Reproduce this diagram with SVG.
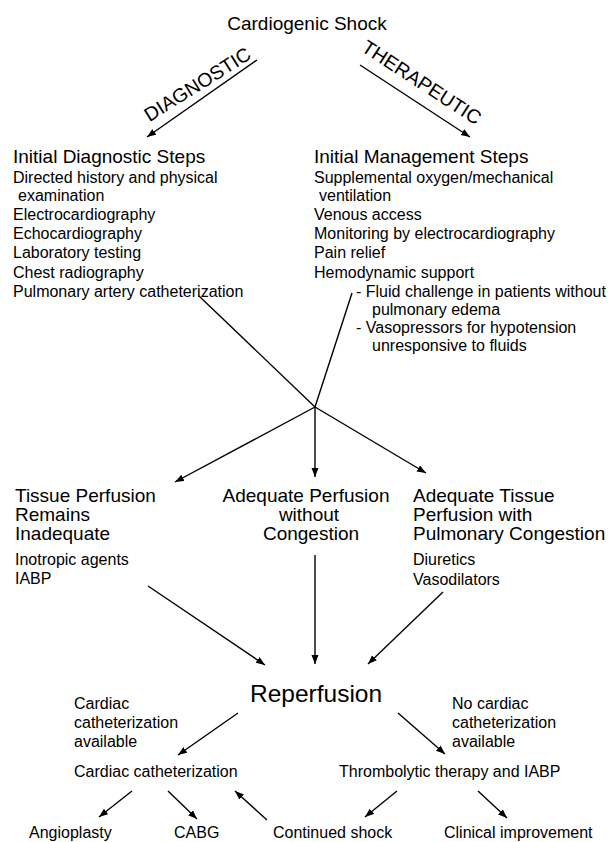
<svg xmlns="http://www.w3.org/2000/svg" width="611" height="842" viewBox="0 0 611 842">
<defs>
<style>
text{font-family:"Liberation Sans",Arial,Helvetica,sans-serif;fill:#000}
.t{font-size:19px}
.l{font-size:16px}
.big{font-size:24.5px}
.rot{font-size:19.5px}
.c{text-anchor:middle}
.ln{stroke:#000;stroke-width:1.4;fill:none}
.ar{marker-end:url(#ah)}
</style>
<marker id="ah" markerUnits="userSpaceOnUse" markerWidth="10" markerHeight="8" refX="9" refY="3.5" orient="auto">
<path d="M0,0 L9,3.5 L0,7 z" fill="#000"/>
</marker>
</defs>
<rect width="611" height="842" fill="#fff"/>

<g id="connectors">
<line class="ln ar" x1="257" y1="60" x2="147" y2="137"/>
<line class="ln ar" x1="360" y1="65" x2="470" y2="137"/>
<line class="ln" x1="199" y1="296" x2="315" y2="407"/>
<line class="ln" x1="352" y1="293" x2="315" y2="407"/>
<line class="ln ar" x1="315" y1="407" x2="175" y2="482"/>
<line class="ln ar" x1="315" y1="407" x2="315" y2="477"/>
<line class="ln ar" x1="315" y1="407" x2="426" y2="473"/>
<line class="ln ar" x1="148" y1="586" x2="265" y2="665"/>
<line class="ln ar" x1="315" y1="555" x2="315" y2="664"/>
<line class="ln ar" x1="443" y1="592" x2="368" y2="664"/>
<line class="ln ar" x1="238" y1="713" x2="178" y2="755"/>
<line class="ln ar" x1="398" y1="713" x2="445" y2="754"/>
<line class="ln ar" x1="132" y1="791" x2="99" y2="817"/>
<line class="ln ar" x1="168" y1="791" x2="197" y2="819"/>
<line class="ln ar" x1="267" y1="820" x2="235" y2="791"/>
<line class="ln ar" x1="397" y1="791" x2="365" y2="817"/>
<line class="ln ar" x1="478" y1="791" x2="507" y2="818"/>
<text class="rot c" transform="translate(201,90) rotate(-32)">DIAGNOSTIC</text>
<text class="rot c" transform="translate(418,88) rotate(33)">THERAPEUTIC</text>
<text class="l" x="74" y="709">Cardiac</text>
<text class="l" x="74" y="728">catheterization</text>
<text class="l" x="74" y="747">available</text>
<text class="l" x="452" y="709">No cardiac</text>
<text class="l" x="452" y="728">catheterization</text>
<text class="l" x="452" y="747">available</text>
</g>

<g id="n-shock">
<text class="t c" x="307" y="30">Cardiogenic Shock</text>
</g>

<g id="n-diagnostic">
<text class="t" x="13" y="163">Initial Diagnostic Steps</text>
<text class="l" x="13" y="183">Directed history and physical</text>
<text class="l" x="18" y="201">examination</text>
<text class="l" x="13" y="220">Electrocardiography</text>
<text class="l" x="13" y="239">Echocardiography</text>
<text class="l" x="13" y="258">Laboratory testing</text>
<text class="l" x="13" y="278">Chest radiography</text>
<text class="l" x="13" y="297">Pulmonary artery catheterization</text>
</g>

<g id="n-management">
<text class="t" x="314" y="163">Initial Management Steps</text>
<text class="l" x="314" y="183">Supplemental oxygen/mechanical</text>
<text class="l" x="319" y="201">ventilation</text>
<text class="l" x="314" y="220">Venous access</text>
<text class="l" x="314" y="239">Monitoring by electrocardiography</text>
<text class="l" x="314" y="258">Pain relief</text>
<text class="l" x="314" y="278">Hemodynamic support</text>
<text class="l" x="356" y="297">- Fluid challenge in patients without</text>
<text class="l" x="372" y="315">pulmonary edema</text>
<text class="l" x="356" y="333">- Vasopressors for hypotension</text>
<text class="l" x="372" y="351">unresponsive to fluids</text>
</g>

<g id="n-inadequate">
<text class="t" x="15" y="502">Tissue Perfusion</text>
<text class="t" x="15" y="521">Remains</text>
<text class="t" x="15" y="540">Inadequate</text>
<text class="l" x="15" y="565">Inotropic agents</text>
<text class="l" x="15" y="584">IABP</text>
</g>

<g id="n-adequate">
<text class="t c" x="306" y="502">Adequate Perfusion</text>
<text class="t c" x="309" y="521">without</text>
<text class="t c" x="311" y="540">Congestion</text>
</g>

<g id="n-congestion">
<text class="t" x="413" y="502">Adequate Tissue</text>
<text class="t" x="413" y="521">Perfusion with</text>
<text class="t" x="413" y="540">Pulmonary Congestion</text>
<text class="l" x="413" y="565">Diuretics</text>
<text class="l" x="413" y="585">Vasodilators</text>
</g>

<g id="n-reperfusion">
<text class="big" x="250" y="702">Reperfusion</text>
</g>

<g id="n-cath">
<text class="l" x="74" y="777">Cardiac catheterization</text>
</g>

<g id="n-thrombolytic">
<text class="l" x="339" y="777">Thrombolytic therapy and IABP</text>
</g>

<g id="n-angioplasty">
<text class="l" x="29" y="838">Angioplasty</text>
</g>
<g id="n-cabg">
<text class="l" x="174" y="838">CABG</text>
</g>
<g id="n-continued">
<text class="l" x="273" y="838">Continued shock</text>
</g>
<g id="n-improvement">
<text class="l" x="444" y="838">Clinical improvement</text>
</g>
</svg>
